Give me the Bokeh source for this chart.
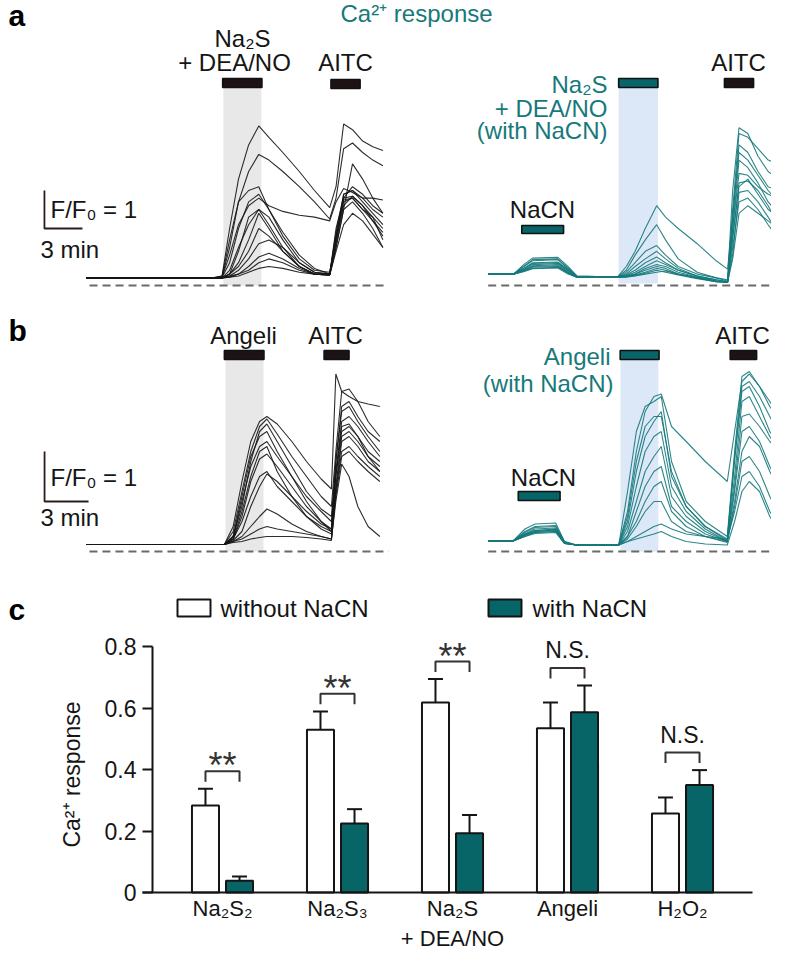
import math
from bokeh.plotting import figure
from bokeh.models import Range1d, LinearAxis, FixedTicker
from bokeh.layouts import column, row
from bokeh.embed import file_html
from bokeh.resources import INLINE
from bokeh.core.properties import value

# ------------------------------------------------------------------ data
# Panel a, left: Na2S + DEA/NO (time in min, F/F0 above reference line)
T_A_LEFT = [0, 5, 10, 10.7, 11.3, 12, 12.8, 13.6, 14.4, 15.5, 16.8, 18, 19.2, 19.7, 20.3, 21, 21.8, 22.6, 23.4]
A_LEFT = [
    [0.2, 0.2, 0.2, 0.25, 1.5, 2.8, 3.7, 4.2, 3.9, 3.5, 3.0, 2.5, 2.05, 2.6, 4.25, 4.1, 3.8, 3.65, 3.55],
    [0.2, 0.2, 0.2, 0.22, 1.0, 2.2, 3.0, 3.45, 3.3, 3.0, 2.6, 2.2, 1.75, 2.3, 3.6, 3.75, 3.5, 3.3, 3.15],
    [0.2, 0.2, 0.2, 0.22, 0.8, 1.6, 2.1, 2.3, 2.1, 1.95, 1.85, 1.8, 1.7, 2.2, 2.55, 2.45, 2.3, 2.3, 2.25],
    [0.2, 0.2, 0.2, 0.25, 1.2, 2.2, 2.5, 2.6, 2.0, 1.3, 0.7, 0.4, 0.35, 1.2, 2.4, 2.5, 2.2, 1.9, 1.6],
    [0.2, 0.2, 0.2, 0.22, 0.6, 1.5, 2.2, 2.4, 2.0, 1.4, 0.8, 0.45, 0.3, 1.5, 2.3, 2.35, 2.1, 1.8, 1.2],
    [0.2, 0.2, 0.2, 0.2, 0.4, 1.0, 1.6, 2.0, 1.8, 1.2, 0.6, 0.35, 0.3, 1.1, 2.2, 2.3, 2.0, 1.7, 1.4],
    [0.2, 0.2, 0.2, 0.2, 0.3, 0.6, 1.2, 1.9, 1.5, 0.9, 0.5, 0.3, 0.3, 1.4, 2.4, 2.5, 2.3, 2.0, 1.8],
    [0.2, 0.2, 0.2, 0.2, 0.3, 0.5, 0.9, 1.5, 1.3, 0.9, 0.5, 0.3, 0.28, 1.0, 2.0, 2.2, 1.9, 1.5, 1.0],
    [0.2, 0.2, 0.2, 0.2, 0.25, 0.4, 0.7, 1.1, 1.2, 1.0, 0.6, 0.35, 0.3, 1.3, 2.3, 2.6, 2.4, 2.1, 1.9],
    [0.2, 0.2, 0.2, 0.2, 0.25, 0.3, 0.5, 0.75, 0.85, 0.7, 0.45, 0.3, 0.28, 1.2, 2.1, 2.35, 2.1, 1.7, 1.3],
    [0.2, 0.2, 0.2, 0.2, 0.22, 0.3, 0.4, 0.6, 0.7, 0.6, 0.4, 0.3, 0.28, 0.9, 1.6, 1.9, 1.7, 1.35, 1.0],
    [0.2, 0.2, 0.2, 0.2, 0.22, 0.25, 0.35, 0.45, 0.5, 0.45, 0.35, 0.3, 0.28, 1.0, 2.0, 3.2, 2.8, 2.3, 1.9],
    [0.2, 0.2, 0.2, 0.2, 0.3, 0.9, 1.8, 2.0, 1.6, 1.0, 0.5, 0.3, 0.28, 1.3, 2.25, 2.3, 2.0, 1.8, 1.5],
]
STIM_A_LEFT = [10.75, 13.85]
AITC_A_LEFT = [19.3, 21.6]

# Panel a, right: Na2S + DEA/NO with NaCN
T_A_RIGHT = [0, 2, 2.8, 3.5, 5.5, 6.3, 7.0, 10.2, 10.9, 11.6, 12.4, 13.3, 14.0, 15.0, 16.5, 18.0, 18.9, 19.3, 19.8, 20.5, 21.3, 22.1, 22.9]
A_RIGHT = [
    [0.3, 0.3, 0.5, 0.68, 0.7, 0.45, 0.25, 0.22, 0.5, 0.9, 1.5, 2.1, 1.8, 1.5, 1.1, 0.65, 0.43, 1.8, 3.5, 3.3, 2.9, 2.5, 2.2],
    [0.3, 0.3, 0.55, 0.72, 0.74, 0.5, 0.25, 0.22, 0.4, 0.8, 1.2, 1.6, 1.2, 0.7, 0.35, 0.2, 0.15, 2.5, 4.15, 4.0, 3.4, 3.0, 2.8],
    [0.3, 0.3, 0.5, 0.65, 0.68, 0.45, 0.24, 0.22, 0.35, 0.6, 0.9, 1.05, 0.8, 0.5, 0.3, 0.2, 0.12, 2.0, 4.0, 3.9, 3.6, 3.3, 3.2],
    [0.3, 0.3, 0.45, 0.6, 0.62, 0.42, 0.23, 0.22, 0.3, 0.5, 0.7, 0.9, 0.7, 0.45, 0.25, 0.15, 0.1, 1.5, 3.3, 3.1, 2.7, 2.2, 1.9],
    [0.3, 0.3, 0.45, 0.58, 0.6, 0.4, 0.23, 0.22, 0.28, 0.4, 0.6, 0.75, 0.6, 0.4, 0.25, 0.15, 0.1, 1.5, 2.95, 2.9, 2.6, 2.4, 2.3],
    [0.3, 0.3, 0.42, 0.55, 0.58, 0.38, 0.22, 0.22, 0.26, 0.35, 0.5, 0.65, 0.55, 0.4, 0.25, 0.12, 0.08, 1.2, 2.7, 2.75, 2.5, 2.1, 1.6],
    [0.3, 0.3, 0.4, 0.52, 0.55, 0.35, 0.22, 0.22, 0.25, 0.3, 0.45, 0.55, 0.5, 0.35, 0.22, 0.12, 0.1, 0.8, 2.45, 2.5, 2.2, 1.8, 1.4],
    [0.3, 0.3, 0.4, 0.5, 0.52, 0.35, 0.22, 0.22, 0.24, 0.3, 0.4, 0.5, 0.45, 0.3, 0.2, 0.1, 0.08, 1.0, 2.2, 2.3, 2.0, 1.6, 1.22],
    [0.3, 0.3, 0.38, 0.48, 0.5, 0.33, 0.22, 0.22, 0.23, 0.28, 0.35, 0.45, 0.4, 0.3, 0.2, 0.1, 0.08, 0.7, 1.9, 2.1, 1.9, 1.7, 1.5],
    [0.3, 0.3, 0.38, 0.45, 0.48, 0.32, 0.22, 0.22, 0.23, 0.26, 0.32, 0.4, 0.35, 0.28, 0.18, 0.1, 0.1, 1.8, 3.7, 3.5, 3.0, 2.6, 2.5],
    [0.3, 0.3, 0.36, 0.44, 0.46, 0.3, 0.22, 0.22, 0.22, 0.25, 0.3, 0.35, 0.38, 0.3, 0.2, 0.12, 0.1, 1.3, 2.6, 2.8, 2.4, 2.0, 1.8],
]
NACN_A = [2.65, 5.95]
STIM_A_RIGHT = [10.3, 13.4]
AITC_A_RIGHT = [18.65, 20.95]

# Panel b, left: Angeli's salt
T_B_LEFT = [0, 5, 9.4, 10.0, 10.6, 11.2, 11.8, 12.3, 13.0, 14.0, 15.0, 16.0, 16.7, 17.0, 17.4, 17.9, 18.5, 19.2, 20.0]
B_LEFT = [
    [0.14, 0.14, 0.14, 0.5, 1.4, 2.2, 2.6, 2.7, 2.55, 2.2, 1.8, 1.45, 1.25, 3.55, 3.2, 3.1, 3.0, 2.95, 2.9],
    [0.14, 0.14, 0.14, 0.4, 1.2, 2.0, 2.5, 2.65, 2.35, 1.9, 1.5, 1.1, 0.9, 2.0, 3.2, 3.25, 3.0, 2.6, 2.3],
    [0.14, 0.14, 0.14, 0.3, 0.9, 1.8, 2.4, 2.55, 2.2, 1.7, 1.2, 0.85, 0.7, 1.8, 2.9, 3.0, 2.7, 2.4, 2.2],
    [0.14, 0.14, 0.14, 0.3, 1.0, 1.7, 2.1, 2.2, 1.9, 1.5, 1.1, 0.8, 0.6, 1.6, 2.6, 2.7, 2.5, 2.2, 1.9],
    [0.14, 0.14, 0.14, 0.25, 0.7, 1.4, 1.85, 1.95, 1.7, 1.3, 0.9, 0.6, 0.45, 1.5, 2.5, 2.55, 2.3, 1.9, 1.7],
    [0.14, 0.14, 0.14, 0.25, 0.6, 1.1, 1.5, 1.6, 1.3, 1.0, 0.7, 0.5, 0.4, 1.3, 2.3, 2.4, 2.2, 1.9, 1.6],
    [0.14, 0.14, 0.14, 0.22, 0.4, 0.9, 1.3, 1.55, 1.4, 1.1, 0.8, 0.55, 0.45, 1.2, 2.0, 2.1, 1.9, 1.7, 1.5],
    [0.14, 0.14, 0.14, 0.2, 0.3, 0.5, 0.7, 0.85, 0.75, 0.55, 0.4, 0.3, 0.25, 1.0, 1.75, 1.5, 0.9, 0.5, 0.3],
    [0.14, 0.14, 0.14, 0.18, 0.2, 0.25, 0.28, 0.3, 0.3, 0.3, 0.28, 0.25, 0.22, 1.2, 2.2, 2.3, 2.1, 1.8, 1.6],
    [0.14, 0.14, 0.14, 0.3, 1.1, 1.9, 2.3, 2.4, 2.0, 1.5, 1.0, 0.6, 0.4, 1.8, 2.8, 2.9, 2.6, 2.3, 2.0],
    [0.14, 0.14, 0.14, 0.25, 0.8, 1.5, 2.0, 2.1, 1.6, 1.1, 0.7, 0.45, 0.35, 1.5, 2.4, 2.5, 2.3, 2.0, 1.8],
    [0.14, 0.14, 0.14, 0.2, 0.25, 0.35, 0.45, 0.5, 0.45, 0.4, 0.35, 0.3, 0.25, 1.1, 1.9, 2.0, 1.8, 1.6, 1.4],
]
STIM_B_LEFT = [9.4, 12.1]
AITC_B_LEFT = [16.2, 17.9]

# Panel b, right: Angeli's salt with NaCN
T_B_RIGHT = [0, 1.7, 2.5, 3.2, 4.6, 5.2, 6.0, 8.9, 9.5, 10.1, 10.7, 11.3, 11.8, 12.5, 13.5, 14.8, 16.3, 16.8, 17.3, 17.8, 18.5, 19.2, 19.9]
B_RIGHT = [
    [0.21, 0.21, 0.45, 0.55, 0.57, 0.2, 0.13, 0.13, 0.8, 2.0, 2.8, 3.1, 3.15, 2.5, 2.2, 1.8, 1.4, 2.4, 3.4, 3.55, 3.3, 3.0, 2.7],
    [0.21, 0.21, 0.4, 0.5, 0.52, 0.2, 0.13, 0.13, 1.2, 2.4, 2.9, 3.0, 3.1, 1.8, 1.0, 0.6, 0.3, 2.0, 3.5, 3.6, 3.3, 2.9, 2.6],
    [0.21, 0.21, 0.38, 0.48, 0.5, 0.18, 0.13, 0.13, 0.6, 1.6, 2.3, 2.6, 2.8, 1.5, 0.9, 0.5, 0.25, 1.8, 3.2, 3.3, 2.9, 2.4, 2.1],
    [0.21, 0.21, 0.35, 0.45, 0.47, 0.18, 0.13, 0.13, 0.5, 1.3, 2.0, 2.3, 2.4, 1.3, 0.8, 0.45, 0.2, 1.5, 3.0, 3.1, 2.7, 2.3, 2.0],
    [0.21, 0.21, 0.35, 0.42, 0.45, 0.17, 0.13, 0.13, 0.4, 1.0, 1.6, 1.9, 2.1, 1.1, 0.7, 0.4, 0.2, 1.3, 2.7, 2.75, 2.5, 2.2, 2.0],
    [0.21, 0.21, 0.33, 0.4, 0.43, 0.17, 0.13, 0.13, 0.3, 0.8, 1.3, 1.6, 1.7, 0.9, 0.6, 0.35, 0.2, 1.2, 2.4, 2.5, 2.2, 1.7, 1.3],
    [0.21, 0.21, 0.33, 0.4, 0.42, 0.17, 0.13, 0.13, 0.3, 0.6, 1.0, 1.3, 1.4, 0.8, 0.5, 0.3, 0.18, 1.0, 2.0, 2.3, 2.1, 1.6, 1.2],
    [0.21, 0.21, 0.3, 0.38, 0.4, 0.16, 0.13, 0.13, 0.25, 0.5, 0.8, 1.0, 1.0, 0.6, 0.4, 0.3, 0.2, 0.9, 1.8, 1.9, 1.6, 1.1, 0.7],
    [0.21, 0.21, 0.3, 0.36, 0.38, 0.16, 0.13, 0.13, 0.2, 0.3, 0.4, 0.5, 0.55, 0.45, 0.35, 0.3, 0.25, 0.8, 1.5, 1.6, 1.3, 0.8, 0.5],
    [0.21, 0.21, 0.32, 0.38, 0.4, 0.16, 0.13, 0.13, 0.2, 0.25, 0.3, 0.35, 0.4, 0.3, 0.2, 0.15, 0.13, 0.6, 1.2, 1.4, 1.2, 0.7, 0.4],
    [0.21, 0.21, 0.34, 0.42, 0.44, 0.17, 0.13, 0.13, 0.7, 1.8, 2.5, 2.7, 2.7, 1.6, 0.9, 0.5, 0.22, 1.9, 3.3, 3.4, 3.1, 2.7, 2.3],
]
NACN_B = [2.05, 4.9]
STIM_B_RIGHT = [9.0, 11.65]
AITC_B_RIGHT = [16.5, 18.3]

# Panel c: bar chart
CATEGORIES = ["Na₂S₂", "Na₂S₃", "Na₂S\n+ DEA/NO", "Angeli", "H₂O₂"]
WITHOUT_NACN = [0.283, 0.529, 0.618, 0.534, 0.257]
WITHOUT_SEM = [0.054, 0.060, 0.076, 0.084, 0.052]
WITH_NACN = [0.038, 0.224, 0.193, 0.586, 0.350]
WITH_SEM = [0.014, 0.047, 0.059, 0.087, 0.048]
SIGNIF = ["**", "**", "**", "N.S.", "N.S."]
Y_TICKS = [0, 0.2, 0.4, 0.6, 0.8]
Y_TICK_LABELS = ["0", "0.2", "0.4", "0.6", "0.8"]

# ------------------------------------------------------------------ style
FONT = "Liberation Sans"
W = 771
BLACK = "#151515"
TEAL_BAR = "#076567"
TEAL_LINE = "#16797b"
TEAL_TEXT = "#17797b"
GRAY_SHADE = "#e8e8e8"
BLUE_SHADE = "#dce8f7"
X0_LEFT = 86.0      # x of t=0, left traces
X0_RIGHT = 487.7    # x of t=0, right traces


def base_fig(width, height, x_range, y_range):
    p = figure(width=width, height=height, x_range=x_range, y_range=y_range,
               x_axis_location=None, y_axis_location=None, toolbar_location=None,
               output_backend="svg", min_border=0, outline_line_color=None)
    p.grid.visible = False
    p.background_fill_color = "white"
    p.border_fill_color = "white"
    return p


def txt(p, x, y, s, size=24, color=BLACK, align="left", baseline="middle",
        bold=False, angle=0.0, xr="px", yr="px"):
    p.text(x=[x], y=[y], text=[s], text_font=value(FONT), text_font_size=f"{size}px",
           text_color=color, text_align=align, text_baseline=baseline,
           text_font_style="bold" if bold else "normal", angle=angle,
           x_range_name=xr, y_range_name=yr)


def trace_row(ref_top, ref_bottom, s_min, s_val, dashed_ref):
    H = ref_bottom - ref_top
    p = base_fig(W, H,
                 Range1d((0 - X0_LEFT) / s_min, (W - X0_LEFT) / s_min),
                 Range1d((dashed_ref - ref_bottom) / s_val, (dashed_ref - ref_top) / s_val))
    p.extra_x_ranges = {"r": Range1d((0 - X0_RIGHT) / s_min, (W - X0_RIGHT) / s_min),
                        "px": Range1d(0, W)}
    p.extra_y_ranges = {"px": Range1d(ref_bottom, ref_top)}
    return p


def shade(p, t, top, bottom, color, xr="default"):
    p.quad(left=[t[0]], right=[t[1]], top=[top], bottom=[bottom], fill_color=color,
           line_color=None, x_range_name=xr, y_range_name="px")


def stim(p, t, top, bottom, color, xr="default"):
    p.quad(left=[t[0]], right=[t[1]], top=[top], bottom=[bottom], fill_color=color,
           line_color="#111111", line_width=1.6, x_range_name=xr, y_range_name="px")


def traces(p, T, Y, color, xr="default"):
    p.multi_line(xs=[T] * len(Y), ys=Y, line_color=color, line_width=1.1,
                 line_alpha=0.9, x_range_name=xr)


def dashed(p, t0, t1, xr="default"):
    p.line(x=[t0, t1], y=[0, 0], line_dash="8 5", line_color="#6a6a6a",
           line_width=2, x_range_name=xr)


def scalebar(p, t, v):
    p.line(x=[t, t, t + 3], y=[v + 1, v, v], line_color="#2a1c1c", line_width=1.8)


# ------------------------------------------------------------------ panel a
SA_MIN = 38 / 3.0
SA_VAL = 38.0
pa = trace_row(0, 290, SA_MIN, SA_VAL, 285)
shade(pa, [10.8, 13.8], 87, 285, GRAY_SHADE)
shade(pa, STIM_A_RIGHT, 87, 283, BLUE_SHADE, xr="r")
dashed(pa, 0.24, 23.8)
dashed(pa, 0.0, 23.3, xr="r")
traces(pa, T_A_LEFT, A_LEFT, "#151515")
traces(pa, T_A_RIGHT, A_RIGHT, TEAL_LINE, xr="r")
stim(pa, STIM_A_LEFT, 78, 87, "#1c1414")
stim(pa, AITC_A_LEFT, 79, 88, "#1c1414")
stim(pa, NACN_A, 225, 233, TEAL_BAR, xr="r")
stim(pa, STIM_A_RIGHT, 78, 87, TEAL_BAR, xr="r")
stim(pa, AITC_A_RIGHT, 78, 87, "#1c1414", xr="r")
scalebar(pa, -3.32, 1.5)
txt(pa, 8, 15, "a", size=30, bold=True, color="#000000")
txt(pa, 340, 13, "Ca²⁺ response", color=TEAL_TEXT)
txt(pa, 242, 37.5, "Na₂S", align="center")
txt(pa, 234, 61.5, "+ DEA/NO", align="center")
txt(pa, 345, 61.5, "AITC", align="center")
txt(pa, 50, 208.5, "F/F₀ = 1")
txt(pa, 40, 248.5, "3 min")
txt(pa, 542, 209, "NaCN", align="center")
txt(pa, 607, 83.5, "Na₂S", align="right", color=TEAL_TEXT)
txt(pa, 607, 107.5, "+ DEA/NO", align="right", color=TEAL_TEXT)
txt(pa, 607, 130, "(with NaCN)", align="right", color=TEAL_TEXT)
txt(pa, 738, 61.5, "AITC", align="center")

# ------------------------------------------------------------------ panel b
SB_MIN = 44 / 3.0
SB_VAL = 50.0
pb = trace_row(297, 577, SB_MIN, SB_VAL, 558)
shade(pb, [9.48, 12.07], 366, 558, GRAY_SHADE)
shade(pb, [9.02, 11.6], 366, 558, BLUE_SHADE, xr="r")
dashed(pb, 0.2, 20.6)
dashed(pb, 0.0, 20.0, xr="r")
traces(pb, T_B_LEFT, B_LEFT, "#151515")
traces(pb, T_B_RIGHT, B_RIGHT, TEAL_LINE, xr="r")
stim(pb, STIM_B_LEFT, 357, 366, "#1c1414")
stim(pb, AITC_B_LEFT, 357, 366, "#1c1414")
stim(pb, NACN_B, 498, 507, TEAL_BAR, xr="r")
stim(pb, STIM_B_RIGHT, 357, 366, TEAL_BAR, xr="r")
stim(pb, AITC_B_RIGHT, 357, 366, "#1c1414", xr="r")
scalebar(pb, -2.86, 1.0)
txt(pb, 8, 337, "b", size=30, bold=True, color="#000000")
txt(pb, 243, 342, "Angeli", align="center")
txt(pb, 335, 342, "AITC", align="center")
txt(pb, 50, 483.5, "F/F₀ = 1")
txt(pb, 40, 524, "3 min")
txt(pb, 543, 483.5, "NaCN", align="center")
txt(pb, 610, 363, "Angeli", align="right", color=TEAL_TEXT)
txt(pb, 613, 390, "(with NaCN)", align="right", color=TEAL_TEXT)
txt(pb, 742, 342, "AITC", align="center")

# ------------------------------------------------------------------ panel c
C_TOP = 584
C_BOTTOM = 964
HC = C_BOTTOM - C_TOP
C_AXIS_Y = 906.0
PX_PER_UNIT_Y = 307.5
PX_PER_CAT = 115.0
C_CENTER0 = 222.0
C_SPLIT = 100

# left strip: panel letter and y-axis title
pcl = base_fig(C_SPLIT, HC, Range1d(0, C_SPLIT), Range1d(C_BOTTOM, C_TOP))
txt(pcl, 8, 623, "c", size=30, bold=True, color="#000000", xr="default", yr="default")
txt(pcl, 71, 788, "Ca²⁺ response", size=23, align="center", baseline="middle",
    angle=math.pi / 2, xr="default", yr="default")


def cx(ref_x):
    return (ref_x - C_CENTER0) / PX_PER_CAT


pc = base_fig(W - C_SPLIT, HC,
              Range1d(cx(C_SPLIT), cx(W)),
              Range1d((C_AXIS_Y - C_BOTTOM) / PX_PER_UNIT_Y, (C_AXIS_Y - C_TOP) / PX_PER_UNIT_Y))

yax = LinearAxis(fixed_location=cx(152), bounds=(0, 0.8), ticker=FixedTicker(ticks=Y_TICKS),
                 major_label_overrides={t: l for t, l in zip(Y_TICKS, Y_TICK_LABELS)})
yax.major_tick_out = 10
yax.major_tick_in = 0
yax.minor_tick_out = 0
yax.minor_tick_in = 0
yax.axis_line_width = 2
yax.major_tick_line_width = 2
yax.axis_line_color = BLACK
yax.major_tick_line_color = BLACK
yax.major_label_text_font = FONT
yax.major_label_text_font_size = "23px"
yax.major_label_text_color = BLACK
yax.major_label_standoff = 6
pc.add_layout(yax, "left")

xs_idx = list(range(len(CATEGORIES)))
xax = LinearAxis(fixed_location=0, bounds=(cx(142), cx(752)), ticker=FixedTicker(ticks=xs_idx),
                 major_label_overrides={i: c for i, c in zip(xs_idx, CATEGORIES)})
xax.major_tick_out = 0
xax.major_tick_in = 0
xax.minor_tick_out = 0
xax.minor_tick_in = 0
xax.axis_line_width = 2
xax.axis_line_color = BLACK
xax.major_label_text_font = FONT
xax.major_label_text_font_size = "22px"
xax.major_label_text_color = BLACK
xax.major_label_standoff = 3
pc.add_layout(xax, "below")

OFF = 0.148
BW = 0.235
CAP = 0.065
x_wo = [i - OFF for i in xs_idx]
x_w = [i + OFF for i in xs_idx]
pc.vbar(x=x_wo, top=WITHOUT_NACN, bottom=0, width=BW, fill_color="white",
        line_color=BLACK, line_width=2)
pc.vbar(x=x_w, top=WITH_NACN, bottom=0, width=BW, fill_color=TEAL_BAR,
        line_color=BLACK, line_width=2)
for xs_, m, s in ((x_wo, WITHOUT_NACN, WITHOUT_SEM), (x_w, WITH_NACN, WITH_SEM)):
    tops = [a + b for a, b in zip(m, s)]
    pc.segment(x0=xs_, y0=m, x1=xs_, y1=tops, line_color=BLACK, line_width=2)
    pc.segment(x0=[x - CAP for x in xs_], y0=tops, x1=[x + CAP for x in xs_], y1=tops,
               line_color=BLACK, line_width=2)

# significance brackets
for i in xs_idx:
    hi = max(WITHOUT_NACN[i] + WITHOUT_SEM[i], WITH_NACN[i] + WITH_SEM[i])
    leg = hi + 0.023
    top = hi + 0.057
    pc.line(x=[x_wo[i], x_wo[i], x_w[i], x_w[i]], y=[leg, top, top, leg],
            line_color="#333333", line_width=2)
    if SIGNIF[i] == "**":
        pc.text(x=[i], y=[top + 0.018], text=[SIGNIF[i]], text_font=value(FONT),
                text_font_size="36px", text_color="#333333", text_align="center",
                text_baseline="middle")
    else:
        pc.text(x=[i], y=[top + 0.058], text=[SIGNIF[i]], text_font=value(FONT),
                text_font_size="23px", text_color=BLACK, text_align="center",
                text_baseline="middle")

# legend
LEG_Y = (C_AXIS_Y - 621.5) / PX_PER_UNIT_Y
LEG_H = 17 / PX_PER_UNIT_Y
pc.rect(x=[cx(193.5)], y=[LEG_Y], width=33 / PX_PER_CAT, height=LEG_H,
        fill_color="white", line_color=BLACK, line_width=2)
pc.rect(x=[cx(504.5)], y=[LEG_Y], width=33 / PX_PER_CAT, height=LEG_H,
        fill_color=TEAL_BAR, line_color=BLACK, line_width=2)
pc.text(x=[cx(220), cx(532)], y=[LEG_Y, LEG_Y], text=["without NaCN", "with NaCN"],
        text_font=value(FONT), text_font_size="24px", text_color=BLACK,
        text_align="left", text_baseline="middle")

layout = column(pa, pb, row(pcl, pc))
open("out.html", "w").write(file_html(layout, INLINE))
